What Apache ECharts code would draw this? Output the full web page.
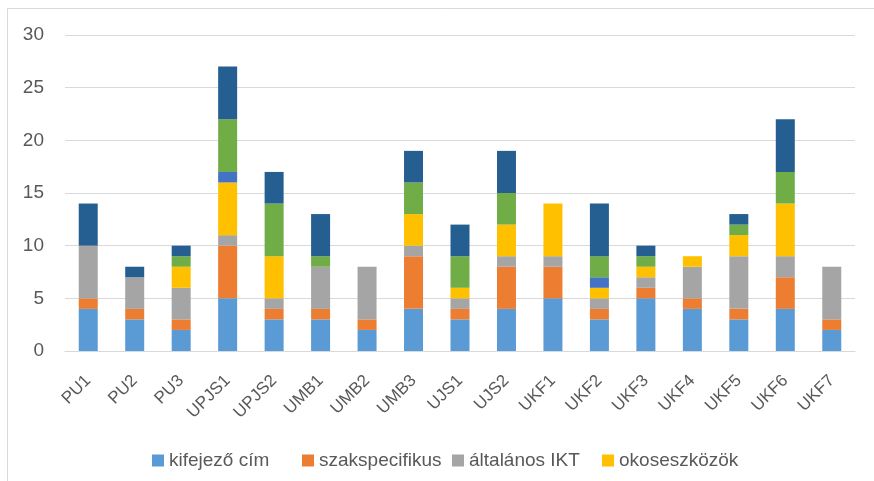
<!DOCTYPE html>
<html><head><meta charset="utf-8">
<script src="https://cdn.jsdelivr.net/npm/echarts@6/dist/echarts.min.js"></script>
<style>html,body{margin:0;padding:0;background:#fff}#c{width:874px;height:481px}</style>
</head><body><div id="c"></div>
<script>
const categories = ['PU1','PU2','PU3','UPJS1','UPJS2','UMB1','UMB2','UMB3','UJS1','UJS2','UKF1','UKF2','UKF3','UKF4','UKF5','UKF6','UKF7'];
const seriesNames = ['kifejező cím','szakspecifikus','általános IKT','okoseszközök','egyéb 1','egyéb 2','egyéb 3'];
const kifejezoCim    = [4,3,2,5,3,3,2,4,3,4,5,3,5,4,3,4,2];
const szakspecifikus = [1,1,1,5,1,1,1,5,1,4,3,1,1,1,1,3,1];
const altalanosIKT   = [5,3,3,1,1,4,5,1,1,1,1,1,1,3,5,2,5];
const okoseszkozok   = [0,0,2,5,4,0,0,3,1,3,5,1,1,1,2,5,0];
const egyeb1         = [0,0,0,1,0,0,0,0,0,0,0,1,0,0,0,0,0];
const egyeb2         = [0,0,1,5,5,1,0,3,3,3,0,2,1,0,1,3,0];
const egyeb3         = [4,1,1,5,3,4,0,3,3,4,0,5,1,0,1,5,0];
const yTicks = [0,5,10,15,20,25,30];
const colors = ['#5b9bd5','#ed7d31','#a5a5a5','#ffc000','#4472c4','#70ad47','#255e91'];
const allData = [kifejezoCim, szakspecifikus, altalanosIKT, okoseszkozok, egyeb1, egyeb2, egyeb3];
const font = 'Liberation Sans';
const legendLefts = [152, 302, 452, 602];
const chart = echarts.init(document.getElementById('c'));
chart.setOption({
  animation:false,
  textStyle:{fontFamily:font},
  graphic:[{type:'rect',shape:{x:7.5,y:8.5,width:900,height:500},style:{fill:'none',stroke:'#d9d9d9',lineWidth:1},silent:true}],
  legend: seriesNames.slice(0,4).map((n,i)=>({data:[n],top:451,left:legendLefts[i],padding:0,itemWidth:12,itemHeight:12,icon:'rect',
    textStyle:{fontSize:19,color:'#595959',fontFamily:font}})),
  grid:{left:65,right:19,top:35,bottom:130,containLabel:false},
  xAxis:{type:'category',data:categories,
    axisLine:{lineStyle:{color:'#d9d9d9',width:1}},axisTick:{show:false},
    axisLabel:{rotate:45,fontSize:17,color:'#595959',margin:27,interval:0}},
  yAxis:{type:'value',min:yTicks[0],max:yTicks[yTicks.length-1],interval:5,
    axisLine:{show:false},axisTick:{show:false},
    axisLabel:{fontSize:19,color:'#595959',margin:21},
    splitLine:{lineStyle:{color:'#d9d9d9',width:1}}},
  series: seriesNames.map((n,i)=>({name:n,type:'bar',stack:'a',barWidth:19,data:allData[i],
    itemStyle:{color:colors[i]}}))
});
</script></body></html>
